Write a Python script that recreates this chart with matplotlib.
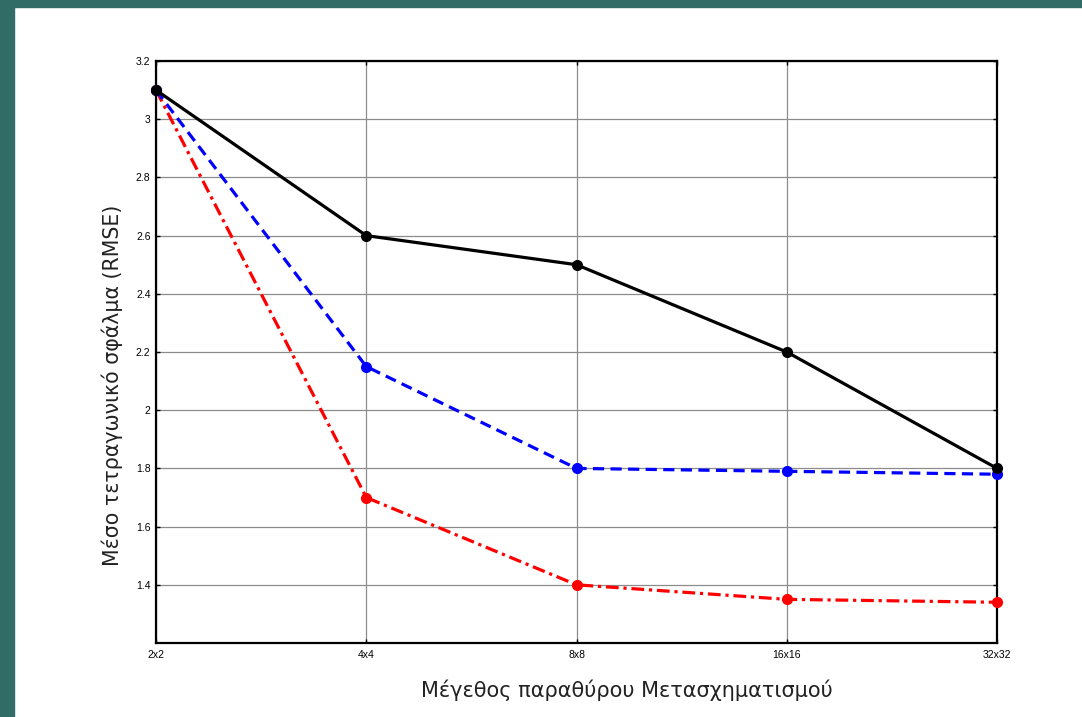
import matplotlib
matplotlib.use("Agg")
import matplotlib.pyplot as plt
from matplotlib.patches import Rectangle

# window sizes and RMSE per method
windows = ['2x2', '4x4', '8x8', '16x16', '32x32']
rmse_black = [3.1, 2.6, 2.5, 2.2, 1.8]
rmse_blue = [3.1, 2.15, 1.8, 1.79, 1.78]
rmse_red = [3.1, 1.7, 1.4, 1.35, 1.34]
yticks = [1.4, 1.6, 1.8, 2.0, 2.2, 2.4, 2.6, 2.8, 3.0, 3.2]
ytick_labels = ['1.4', '1.6', '1.8', '2', '2.2', '2.4', '2.6', '2.8', '3', '3.2']

fig = plt.figure(figsize=(10.82, 7.17), dpi=100)

# teal slide border on left and top
teal = '#316c67'
fig.patches.append(Rectangle((0, 0), 14 / 1082, 1, transform=fig.transFigure, color=teal, zorder=0))
fig.patches.append(Rectangle((0, 1 - 7 / 717), 1, 7 / 717, transform=fig.transFigure, color=teal, zorder=0))

ax = fig.add_axes([0.1442, 0.1032, 0.7773, 0.8117])
x = list(range(len(windows)))

ax.plot(x, rmse_black, color='black', lw=2.3, ls='-', marker='o', ms=7, zorder=5, clip_on=False)
ax.plot(x, rmse_blue, color='blue', lw=2.3, ls=(0, (3.5, 2)), marker='o', ms=7, zorder=4, clip_on=False)
ax.plot(x, rmse_red, color='red', lw=2.3, ls=(0, (4, 1.5, 1, 1.5)), marker='o', ms=7, zorder=3, clip_on=False)

ax.set_xlim(0, 4)
ax.set_ylim(1.2, 3.2)
ax.set_xticks(x)
ax.set_xticklabels(windows, fontsize=7.5, family='Liberation Sans')
ax.set_yticks(yticks)
ax.set_yticklabels(ytick_labels, fontsize=7.5, family='Liberation Sans')
ax.tick_params(direction='in', length=3, width=1, top=True, right=True, pad=4)
ax.tick_params(axis='x', pad=5)

ax.grid(True, color='#8c8c8c', lw=0.9)
for s in ax.spines.values():
    s.set_linewidth(1.6)

ax.set_xlabel('Μέγεθος παραθύρου Μετασχηματισμού', fontsize=15, color='#222222')
ax.set_ylabel('Μέσο τετραγωνικό σφάλμα (RMSE)', fontsize=14.8, color='#222222')
ax.xaxis.set_label_coords(0.56, -0.062)
ax.yaxis.set_label_coords(-0.039, 0.443)

fig.savefig('out.png', dpi=100)
